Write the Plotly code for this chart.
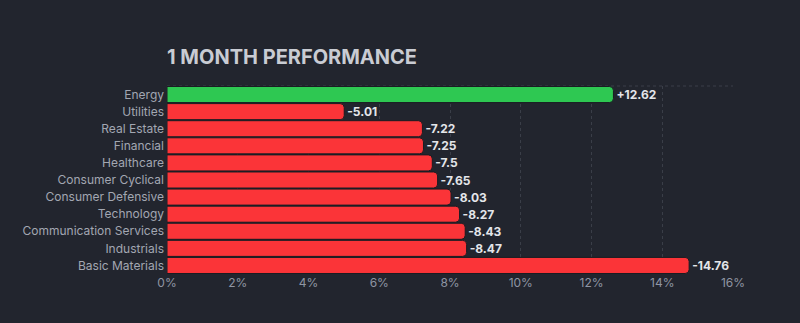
import plotly.graph_objects as go

sectors = ["Energy", "Utilities", "Real Estate", "Financial", "Healthcare",
           "Consumer Cyclical", "Consumer Defensive", "Technology",
           "Communication Services", "Industrials", "Basic Materials"]
performance = [12.62, -5.01, -7.22, -7.25, -7.5, -7.65, -8.03, -8.27, -8.43, -8.47, -14.76]
tick_vals = [0, 2, 4, 6, 8, 10, 12, 14, 16]
tick_text = ["0%", "2%", "4%", "6%", "8%", "10%", "12%", "14%", "16%"]

GREEN = "#2ec852"
RED = "#fb3438"
BG = "#22252e"
GRID = "#3a3e48"

bar_len = [abs(v) for v in performance]
labels = [("+%g" % v) if v > 0 else ("%g" % v) for v in performance]
colors = [GREEN if v > 0 else RED for v in performance]

fig = go.Figure(go.Bar(
    x=bar_len, y=sectors, orientation="h",
    marker=dict(color=colors, line=dict(color="#1a1c22", width=1), cornerradius=4),
    text=labels, textposition="outside", cliponaxis=False,
    textfont=dict(color="#e4e6ea", size=12, family="Inter", weight="bold"),
))

fig.update_layout(
    width=800, height=323,
    paper_bgcolor=BG, plot_bgcolor=BG,
    margin=dict(l=167, r=67, t=86, b=49),
    bargap=0.06,
    showlegend=False,
    title=dict(text="1 MONTH PERFORMANCE", x=167/800, xanchor="left",
               y=1 - 57/323, yanchor="middle",
               font=dict(family="Inter", size=20, color="#c9ccd3", weight="bold")),
    font=dict(family="Inter", color="#9ca1ad", size=12),
    shapes=[dict(type="line", xref="paper", yref="paper", x0=0, x1=1, y0=1, y1=1,
                 line=dict(color=GRID, width=1, dash="dot"), layer="below")],
)
fig.update_xaxes(range=[0, 16], tickvals=tick_vals, ticktext=tick_text,
                 showgrid=True, gridcolor=GRID, griddash="dot", gridwidth=1,
                 zeroline=False, showline=False, ticks="", tickfont=dict(size=12, color="#8f95a3"))
fig.update_yaxes(autorange="reversed", showgrid=False, ticks="", ticklabelstandoff=2,
                 tickfont=dict(size=12, color="#a2a7b2"))

fig.write_html("out.html")
